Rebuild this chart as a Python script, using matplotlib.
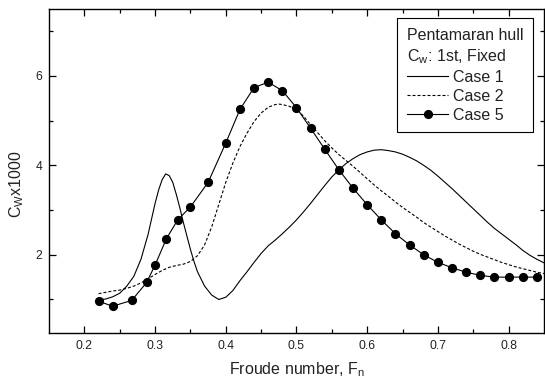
import matplotlib
matplotlib.use("Agg")
import matplotlib.pyplot as plt

plt.rcParams['font.family'] = ['Liberation Sans', 'DejaVu Sans']
plt.rcParams['mathtext.fontset'] = 'custom'
plt.rcParams['mathtext.rm'] = 'Liberation Sans'
plt.rcParams['mathtext.it'] = 'Liberation Sans'

# Case 1 (solid line)
fn_case1 = [0.22, 0.23, 0.24, 0.25, 0.26, 0.27, 0.28, 0.29, 0.30, 0.305,
            0.31, 0.315, 0.32, 0.325, 0.33, 0.335, 0.34, 0.345, 0.35, 0.355,
            0.36, 0.37, 0.38, 0.39, 0.40, 0.41, 0.42, 0.43, 0.44, 0.45,
            0.46, 0.47, 0.48, 0.49, 0.50, 0.51, 0.52, 0.53, 0.54, 0.55,
            0.56, 0.57, 0.58, 0.59, 0.60, 0.61, 0.62, 0.63, 0.64, 0.65,
            0.66, 0.67, 0.68, 0.69, 0.70, 0.71, 0.72, 0.73, 0.74, 0.75,
            0.76, 0.77, 0.78, 0.79, 0.80, 0.81, 0.82, 0.83, 0.84, 0.85]
cw_case1 = [0.99, 1.01, 1.06, 1.14, 1.30, 1.52, 1.90, 2.45, 3.15, 3.45,
            3.68, 3.81, 3.77, 3.62, 3.35, 3.05, 2.72, 2.42, 2.12, 1.85,
            1.62, 1.30, 1.10, 1.00, 1.05, 1.20, 1.42, 1.62, 1.83, 2.03,
            2.20, 2.33, 2.47, 2.62, 2.78, 2.96, 3.15, 3.35, 3.55, 3.74,
            3.90, 4.04, 4.15, 4.24, 4.30, 4.34, 4.35, 4.33, 4.30, 4.25,
            4.18, 4.10, 4.00, 3.89, 3.76, 3.62, 3.48, 3.33, 3.18, 3.03,
            2.88, 2.73, 2.59, 2.47, 2.35, 2.23, 2.10, 1.99, 1.90, 1.82]

# Case 2 (dashed line)
fn_case2 = [0.22, 0.23, 0.24, 0.25, 0.26, 0.27, 0.28, 0.29, 0.30, 0.31,
            0.32, 0.33, 0.34, 0.35, 0.36, 0.37, 0.38, 0.39, 0.40, 0.41,
            0.42, 0.43, 0.44, 0.45, 0.46, 0.47, 0.475, 0.48, 0.49, 0.50,
            0.51, 0.52, 0.53, 0.54, 0.55, 0.56, 0.57, 0.58, 0.59, 0.60,
            0.61, 0.62, 0.63, 0.64, 0.65, 0.66, 0.67, 0.68, 0.69, 0.70,
            0.71, 0.72, 0.73, 0.74, 0.75, 0.76, 0.77, 0.78, 0.79, 0.80,
            0.81, 0.82, 0.83, 0.84, 0.85]
cw_case2 = [1.13, 1.16, 1.19, 1.21, 1.25, 1.30, 1.37, 1.46, 1.56, 1.65,
            1.72, 1.76, 1.79, 1.85, 1.98, 2.22, 2.62, 3.12, 3.62, 4.05,
            4.42, 4.72, 4.98, 5.17, 5.30, 5.36, 5.37, 5.36, 5.32, 5.25,
            5.10, 4.91, 4.73, 4.55, 4.39, 4.24, 4.11, 3.98, 3.84, 3.70,
            3.56, 3.43, 3.31, 3.18, 3.06, 2.95, 2.84, 2.72, 2.62, 2.52,
            2.42, 2.33, 2.24, 2.16, 2.08, 2.01, 1.95, 1.89, 1.83, 1.78,
            1.73, 1.69, 1.65, 1.61, 1.58]

# Case 5 (line + markers)
fn_case5 = [0.22, 0.24, 0.267, 0.288, 0.30, 0.316, 0.332, 0.35, 0.375, 0.40,
            0.42, 0.44, 0.46, 0.48, 0.50, 0.52, 0.54, 0.56, 0.58, 0.60,
            0.62, 0.64, 0.66, 0.68, 0.70, 0.72, 0.74, 0.76, 0.78, 0.80,
            0.82, 0.84]
cw_case5 = [0.96, 0.85, 0.98, 1.38, 1.77, 2.36, 2.78, 3.07, 3.62, 4.50,
            5.25, 5.74, 5.86, 5.67, 5.29, 4.83, 4.36, 3.90, 3.49, 3.12,
            2.78, 2.47, 2.22, 2.00, 1.83, 1.71, 1.61, 1.54, 1.50, 1.50,
            1.50, 1.50]

fig = plt.figure(figsize=(5.45, 3.85), dpi=100)
ax = fig.add_axes([0.09, 0.135, 0.908, 0.842])

ax.plot(fn_case1, cw_case1, color='black', lw=0.8, label='Case 1')
ax.plot(fn_case2, cw_case2, color='black', lw=0.8, linestyle=(0, (2.7, 1.8)), label='Case 2')
ax.plot(fn_case5, cw_case5, color='black', lw=0.8, marker='o', ms=5.6, label='Case 5')

ax.set_xlim(0.15, 0.85)
ax.set_ylim(0.25, 7.5)
ax.set_xticks([0.2, 0.3, 0.4, 0.5, 0.6, 0.7, 0.8])
ax.set_xticks([0.25, 0.35, 0.45, 0.55, 0.65, 0.75], minor=True)
ax.set_yticks([2, 4, 6])
ax.set_yticks([1, 3, 5, 7], minor=True)
ax.set_xticklabels(['0.2', '0.3', '0.4', '0.5', '0.6', '0.7', '0.8'])

ax.tick_params(which='both', direction='in', top=True, right=True,
               labelsize=8.7, labelcolor='#222222', width=0.9)
ax.tick_params(which='major', length=5, pad=5)
ax.tick_params(which='minor', length=3)
for t in ax.xaxis.get_major_ticks() + ax.xaxis.get_minor_ticks() + \
         ax.yaxis.get_major_ticks() + ax.yaxis.get_minor_ticks():
    t.tick2line.set_color('0.75')
for s in ax.spines.values():
    s.set_linewidth(1.0)

ax.set_xlabel('Froude number, F$_\\mathrm{n}$', fontsize=11.5, color='#222222')
ax.set_ylabel('C$_\\mathrm{W}$x1000', fontsize=11.5, color='#222222', va='center')
ax.xaxis.set_label_coords(0.5, -0.085)
ax.yaxis.set_label_coords(-0.066, 0.46)

leg = ax.legend(title='Pentamaran hull\nC$_\\mathrm{w}$: 1st, Fixed',
                loc='upper right', bbox_to_anchor=(0.978, 0.972), borderaxespad=0,
                fontsize=11.5, title_fontsize=11.5, alignment='left',
                frameon=True, fancybox=False, edgecolor='black', framealpha=1,
                handlelength=2.6, handletextpad=0.3, labelspacing=0.24,
                borderpad=0.6)
leg.get_frame().set_linewidth(0.8)
leg.get_title().set_linespacing(1.35)
for txt in leg.get_texts():
    txt.set_color('#222222')
leg.get_title().set_color('#222222')

fig.savefig('out.png', dpi=100)
